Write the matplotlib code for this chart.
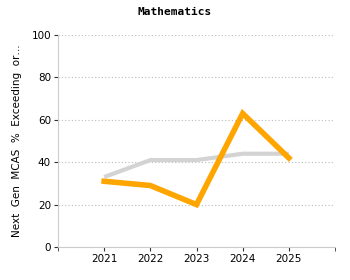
"""Mathematics MCAS chart."""
import matplotlib
matplotlib.use("Agg")
from matplotlib import pyplot as plt

years = [2021, 2022, 2023, 2024, 2025]
school = [31, 29, 20, 63, 42]
state = [33, 41, 41, 44, 44]
y_ticks = [0, 20, 40, 60, 80, 100]

plt.rcParams['font.family'] = ['DejaVu Sans']

fig = plt.figure(figsize=(3.5, 2.8), dpi=100)
ax = fig.add_axes([58 / 350, 33 / 280, 277 / 350, 212 / 280])

ax.plot(years, state, color='#d3d3d3', linewidth=3, solid_capstyle='butt', zorder=2)
ax.plot(years, school, color='#ffa500', linewidth=4, solid_joinstyle='miter', zorder=3)

ax.set_xlim(2020, 2026)
ax.set_ylim(0, 100)
ax.set_xticks(years)
ax.set_xticks([2020, 2026], minor=True)
ax.set_yticks(y_ticks)
ax.tick_params(axis='both', labelsize=7.5, length=3, color='#333333', pad=2)
ax.tick_params(axis='x', which='minor', length=3, color='#333333')
ax.yaxis.grid(True, linestyle=(0, (1, 2)), color='#bbbbbb', linewidth=0.8)
ax.set_axisbelow(True)
for side in ['top', 'right']:
    ax.spines[side].set_visible(False)
for side in ['left', 'bottom']:
    ax.spines[side].set_color('#cccccc')

ax.set_ylabel('Next  Gen  MCAS  %  Exceeding  or…', fontsize=7.5, labelpad=7)
fig.suptitle('Mathematics', fontsize=8, fontweight='bold', y=0.975,
             family='DejaVu Sans Mono')

fig.savefig('out.png', dpi=100)
